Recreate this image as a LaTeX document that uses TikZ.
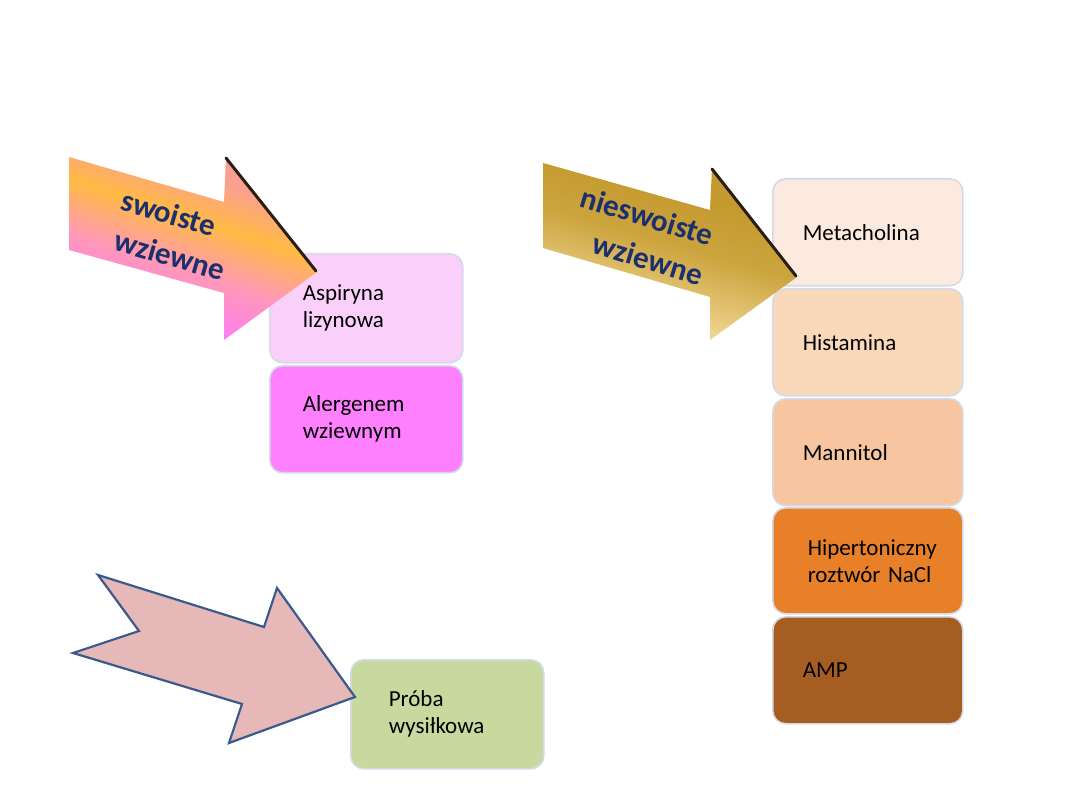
\documentclass[tikz,border=0pt]{standalone}
\usepackage{fontspec}
\setmainfont{Carlito}
\definecolor{boxline}{HTML}{D3DBE8}
\definecolor{pinkA}{HTML}{FAD0FA}
\definecolor{pinkB}{HTML}{FF80FF}
\definecolor{metC}{HTML}{FBEADD}
\definecolor{hisC}{HTML}{FAD8BA}
\definecolor{manC}{HTML}{F7C6A0}
\definecolor{hipC}{HTML}{E8802A}
\definecolor{ampC}{HTML}{A55D22}
\definecolor{greenC}{HTML}{C8D9A0}
\definecolor{arrowRose}{HTML}{E6B8B7}
\definecolor{arrowEdge}{HTML}{3B5A8C}
\definecolor{txtBlue}{HTML}{1C2F6E}
\definecolor{edgeDark}{HTML}{2A1E14}
\definecolor{swTop}{HTML}{FBA090}
\definecolor{swMid}{HTML}{FFBA44}
\definecolor{swLow}{HTML}{FF98B8}
\definecolor{swBot}{HTML}{FF7CF4}
\definecolor{goTop}{HTML}{C49A2E}
\definecolor{goMid}{HTML}{CCA43E}
\definecolor{goBot}{HTML}{F2DA98}
\pgfdeclareverticalshading{swshade}{100bp}{color(0bp)=(swBot); color(30bp)=(swBot); color(44bp)=(swLow); color(57bp)=(swMid); color(68bp)=(swTop); color(100bp)=(swTop)}
\pgfdeclareverticalshading{goshade}{100bp}{color(0bp)=(goBot); color(30bp)=(goBot); color(52bp)=(goMid); color(66bp)=(goTop); color(100bp)=(goTop)}
\begin{document}
\begin{tikzpicture}[x=1pt,y=-1pt,
  box/.style={draw=boxline,line width=1.6pt,rounded corners=13pt,
    align=left,font=\fontsize{23}{27}\selectfont,text=black,inner ysep=0pt},
  arrowtext/.style={font=\fontsize{31}{38}\selectfont\bfseries,text=txtBlue,inner sep=0pt}]
\useasboundingbox (0,0) rectangle (1080,810);
\fill[white] (0,0) rectangle (1080,810);

% --- left boxes
\node[box,fill=pinkA,anchor=north west,minimum width=193pt,minimum height=109pt,inner xsep=33pt,text width=127pt] (asp) at (269,253) {Aspiryna\\lizynowa};
\node[box,fill=pinkB,anchor=north west,minimum width=193pt,minimum height=107pt,inner xsep=33pt,text width=127pt] (ale) at (269,365) {Alergenem\\wziewnym};

% --- right boxes
\node[box,fill=metC,anchor=north west,minimum width=190pt,minimum height=107pt,inner xsep=30pt,text width=130pt] (met) at (772,178) {Metacholina};
\node[box,fill=hisC,anchor=north west,minimum width=190pt,minimum height=107pt,inner xsep=30pt,text width=130pt] (his) at (772,288) {Histamina};
\node[box,fill=manC,anchor=north west,minimum width=190pt,minimum height=107pt,inner xsep=30pt,text width=130pt] (man) at (772,398) {Mannitol};
\node[box,fill=hipC,anchor=north west,minimum width=190pt,minimum height=106pt,inner xsep=25pt,text width=140pt] (hip) at (772,507) {\hspace*{10pt}Hipertoniczny\\\hspace*{10pt}roztwór NaCl};
\node[box,fill=ampC,anchor=north west,minimum width=190pt,minimum height=107pt,inner xsep=30pt,text width=130pt] (amp) at (772,616) {AMP};

% --- bottom box
\node[box,fill=greenC,anchor=north west,minimum width=193pt,minimum height=109pt,inner xsep=38pt,text width=117pt] (pro) at (350,659) {Próba\\wysiłkowa};

% --- swoiste arrow
\shade[shading=swshade, shading angle=-18]
  (69,157) -- (224,202) -- (226,157) -- (317,272) -- (224,340) -- (224,293) -- (69,250) -- cycle;
\draw[edgeDark,line width=3pt,line cap=round] (226,158) -- (316,271);
\node[arrowtext,rotate=-16] (tsw1) at (169,213) {swoiste};
\node[arrowtext,rotate=-16] (tsw2) at (170,255) {wziewne};

% --- nieswoiste arrow
\shade[shading=goshade, shading angle=-16]
  (543,163) -- (710,210) -- (712,168) -- (797,277) -- (710,340) -- (710,297) -- (543,248) -- cycle;
\draw[edgeDark,line width=3pt,line cap=round] (712,169) -- (796,276);
\node[arrowtext,rotate=-17] (tns1) at (647,216) {nieswoiste};
\node[arrowtext,rotate=-17] (tns2) at (648,259) {wziewne};

% --- bottom arrow
\draw[fill=arrowRose,draw=arrowEdge,line width=2.2pt,line join=miter]
  (98,575) -- (264,627) -- (277,588) -- (355,697) -- (229,743) -- (242,704) -- (73,653) -- (139,631) -- cycle;
\end{tikzpicture}
\end{document}
